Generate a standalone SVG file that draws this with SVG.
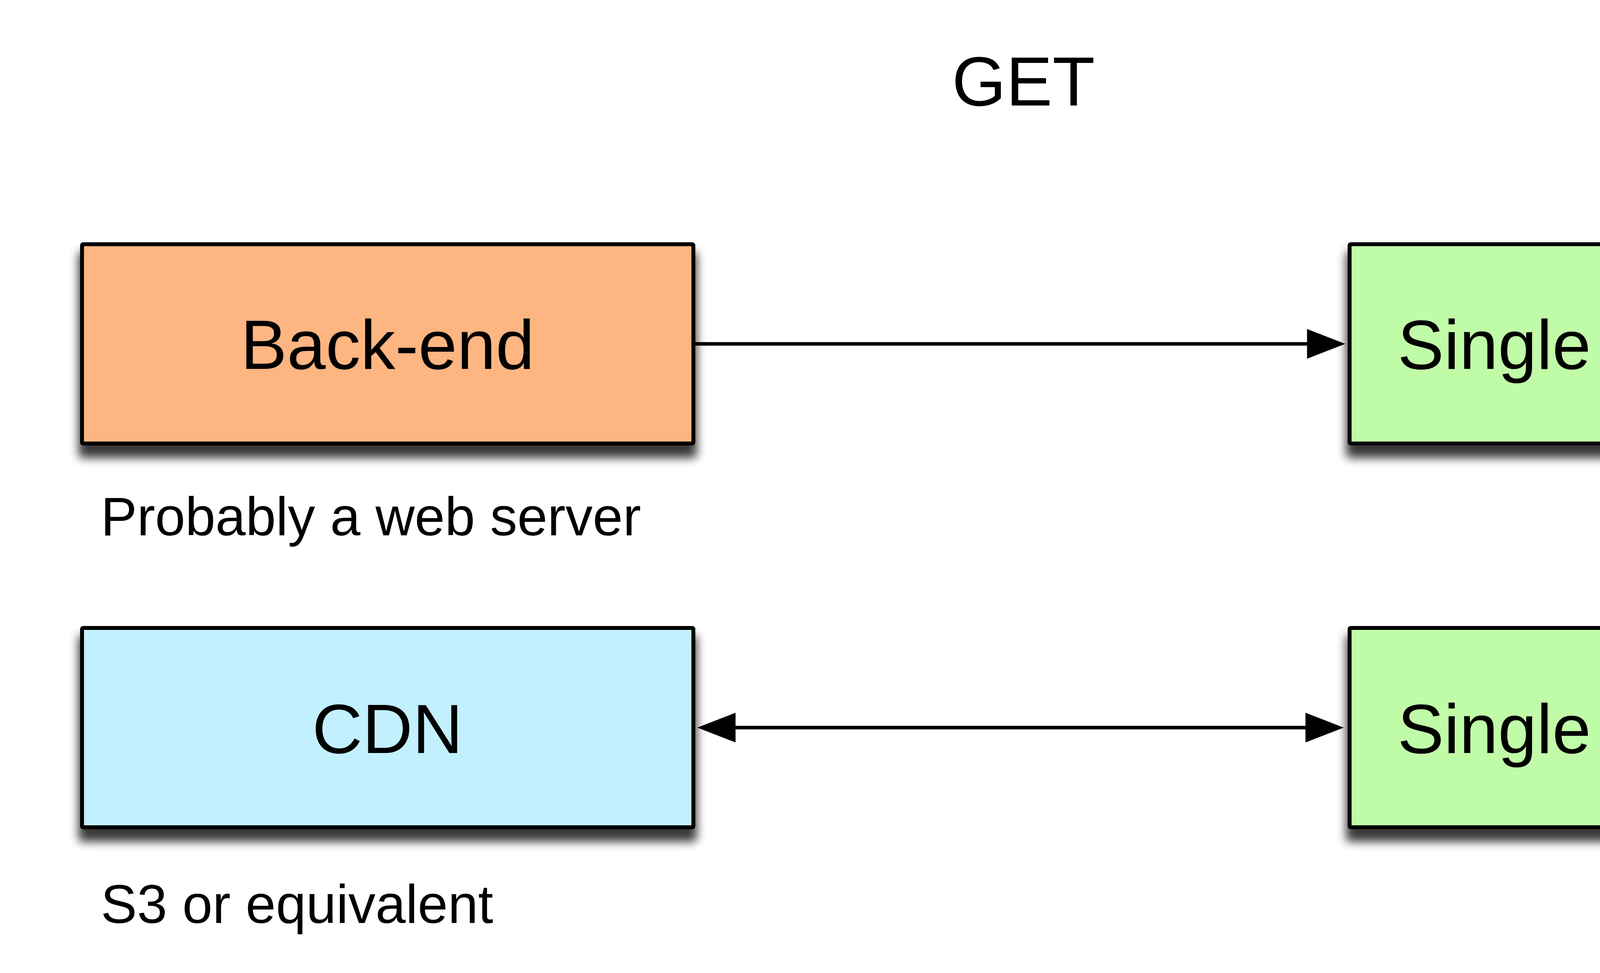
<svg xmlns="http://www.w3.org/2000/svg" width="5220" height="2490" viewBox="0 0 5220 2490">
<style>
  .box { stroke: #000; stroke-width: 10; filter: url(#shadow); }
  .lbl { font-family: "Liberation Sans", Arial, Helvetica, sans-serif; font-size: 178px; fill: #000; text-anchor: middle; }
  .sub { font-family: "Liberation Sans", Arial, Helvetica, sans-serif; font-size: 139px; fill: #000; }
  .conn { stroke: #000; stroke-width: 9; fill: none; }
</style>
<defs>
  <filter id="shadow" x="-10%" y="-20%" width="120%" height="150%">
    <feMorphology in="SourceAlpha" operator="dilate" radius="4" result="d"/>
    <feGaussianBlur in="d" stdDeviation="12"/>
    <feOffset dx="0" dy="28" result="b"/>
    <feComponentTransfer><feFuncA type="linear" slope="0.78"/></feComponentTransfer>
    <feMerge><feMergeNode/><feMergeNode in="SourceGraphic"/></feMerge>
  </filter>
  <marker id="arrow" markerUnits="userSpaceOnUse" markerWidth="100" markerHeight="76" viewBox="0 0 100 76" refX="10" refY="38" orient="auto-start-reverse">
    <path d="M0,0 L98,38 L0,76 Z" fill="#000"/>
  </marker>
</defs>
<rect width="5220" height="2490" fill="#fff"/>
<text id="title" class="lbl" x="2620" y="270">GET</text>
<g id="backend">
  <rect class="box" x="210" y="625" width="1565" height="510" rx="3" fill="#FDB582"/>
  <text class="lbl" x="992" y="944">Back-end</text>
</g>
<text id="backend-note" class="sub" x="258" y="1370">Probably a web server</text>
<g id="spa1">
  <rect class="box" x="3455" y="625" width="1562" height="510" rx="3" fill="#C0FBA7"/>
  <text class="lbl" x="4236" y="944">Single Page App</text>
</g>
<g id="cdn">
  <rect class="box" x="210" y="1607" width="1565" height="510" rx="3" fill="#C2F0FE"/>
  <text class="lbl" x="992" y="1927">CDN</text>
</g>
<text id="cdn-note" class="sub" x="258" y="2362">S3 or equivalent</text>
<g id="spa2">
  <rect class="box" x="3455" y="1607" width="1562" height="510" rx="3" fill="#C0FBA7"/>
  <text class="lbl" x="4236" y="1927">Single Page App</text>
</g>
<g id="connectors">
  <line class="conn" x1="1780" y1="880" x2="3356" y2="880" marker-end="url(#arrow)"/>
  <line class="conn" x1="1873" y1="1862" x2="3352" y2="1862" marker-start="url(#arrow)" marker-end="url(#arrow)"/>
</g>
</svg>
